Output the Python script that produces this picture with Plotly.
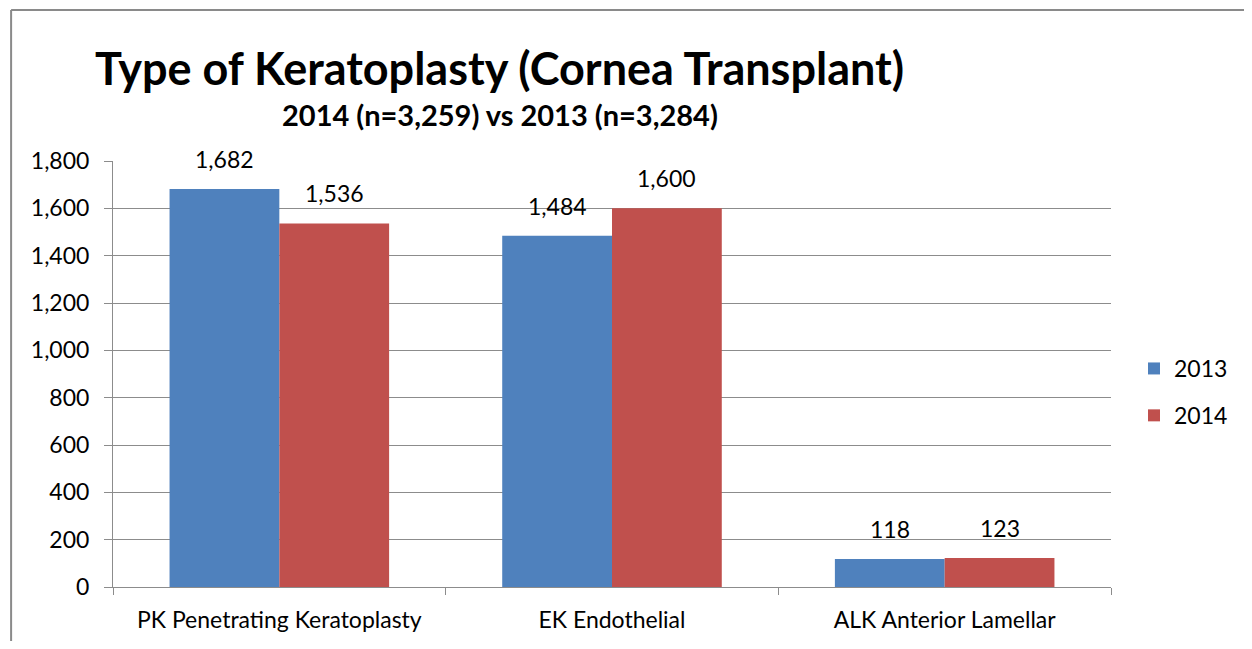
"""Grouped bar chart: type of keratoplasty, 2013 vs 2014."""

import plotly.graph_objects as go

categories = ["PK Penetrating Keratoplasty", "EK Endothelial", "ALK Anterior Lamellar"]
values_2013 = [1682, 1484, 118]
values_2014 = [1536, 1600, 123]
tick_values = [0, 200, 400, 600, 800, 1000, 1200, 1400, 1600, 1800]

FONT = "Lato"
GRID = "#8c8c8c"
FRAME = "#8a8a8a"
BARGAP = 0.34

# the page body adds an 8px margin, so the figure is sized/offset for it
W, H = 1236, 633
OFF = 8
PLOT_L, PLOT_R, PLOT_T, PLOT_B = 113, 1112, 161, 587


def px(x):
    return (x - PLOT_L) / (PLOT_R - PLOT_L)


def py(y):
    return (PLOT_B - y) / (PLOT_B - PLOT_T)


fig = go.Figure()

# half a bar width in pixels, used to centre the value labels over each bar
half_bar = (PLOT_R - PLOT_L) / len(categories) * (1 - BARGAP) / 4

series = [("2013", values_2013, "#4F81BD", -half_bar),
          ("2014", values_2014, "#C0504D", half_bar)]

for name, vals, color, shift in series:
    fig.add_trace(go.Bar(
        x=categories,
        y=vals,
        name=name,
        legendgroup=name,
        marker_color=color,
        marker_line_width=0,
    ))
    for cat, v in zip(categories, vals):
        fig.add_annotation(
            x=cat, y=v,
            text=f"{v:,}",
            showarrow=False,
            xanchor="center", yanchor="bottom",
            xshift=shift, yshift=14,
            font=dict(size=23, color="black", family=FONT),
        )

# title + subtitle as annotations so they sit left of the plot centre
fig.add_annotation(
    text="<b>Type of Keratoplasty (Cornea Transplant)</b>",
    xref="paper", yref="paper",
    x=px(500), y=py(68),
    xanchor="center", yanchor="middle",
    showarrow=False,
    font=dict(size=45, color="black", family=FONT),
)
fig.add_annotation(
    text="<b>2014 (n=3,259) vs 2013 (n=3,284)</b>",
    xref="paper", yref="paper",
    x=px(500), y=py(114),
    xanchor="center", yanchor="middle",
    showarrow=False,
    font=dict(size=29, color="black", family=FONT),
)

# chart frame: only the top and left edges are inside the picture
fig.add_shape(
    type="line", xref="paper", yref="paper",
    x0=px(11), x1=px(1400), y0=py(10), y1=py(10),
    line=dict(color=FRAME, width=2), layer="below",
)
fig.add_shape(
    type="line", xref="paper", yref="paper",
    x0=px(11), x1=px(11), y0=py(10), y1=py(800),
    line=dict(color=FRAME, width=2), layer="below",
)

fig.update_layout(
    width=W,
    height=H,
    margin=dict(l=PLOT_L - OFF, r=OFF + W - PLOT_R, t=PLOT_T - OFF, b=OFF + H - PLOT_B),
    paper_bgcolor="white",
    plot_bgcolor="white",
    font=dict(family=FONT, size=23, color="black"),
    barmode="group",
    bargap=BARGAP,
    bargroupgap=0,
    showlegend=True,
    hovermode=False,
    legend=dict(
        x=px(1134), y=py(392),
        xanchor="left", yanchor="middle",
        font=dict(size=23, family=FONT),
        itemwidth=30,
        tracegroupgap=14,
    ),
    xaxis=dict(
        showline=True,
        linecolor=GRID,
        linewidth=1,
        ticks="outside",
        tickson="boundaries",
        ticklen=7,
        tickcolor=GRID,
        ticklabelstandoff=12,
        tickfont=dict(size=23),
        automargin=False,
    ),
    yaxis=dict(
        range=[0, 1800],
        tickvals=tick_values,
        tickformat=",",
        showline=True,
        linecolor=GRID,
        linewidth=1,
        ticks="outside",
        ticklen=8,
        tickcolor=GRID,
        ticklabelstandoff=10,
        showgrid=True,
        gridcolor=GRID,
        gridwidth=1,
        zeroline=False,
        tickfont=dict(size=23),
        automargin=False,
    ),
)

fig.write_html("out.html")
